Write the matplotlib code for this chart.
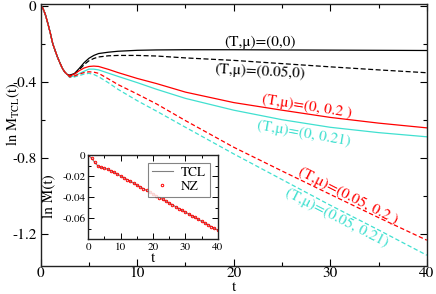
import matplotlib
matplotlib.use("Agg")
import matplotlib.pyplot as plt
from matplotlib.ticker import MultipleLocator, FixedLocator

plt.rcParams['font.family'] = ['STIXGeneral', 'DejaVu Serif']
plt.rcParams['mathtext.fontset'] = 'stix'

# ---- main panel data ----
t_early = [0, 0.25, 0.5, 0.75, 1.0, 1.25, 1.5, 1.75, 2.0, 2.25, 2.5, 2.75]
v_early = [0, -0.015, -0.05, -0.095, -0.145, -0.20, -0.237, -0.272, -0.302, -0.33, -0.35, -0.362]

t_late = [3.0, 3.5, 4.0, 4.5, 5.0, 5.5, 6.0, 7.0, 8.0, 10.0, 12.0, 15.0, 20.0, 25.0, 30.0, 35.0, 40.0]
black_solid = [-0.366, -0.357, -0.33, -0.30, -0.277, -0.262, -0.252, -0.245, -0.240, -0.235, -0.233, -0.232, -0.232, -0.233, -0.234, -0.235, -0.236]
black_dash = [-0.368, -0.36, -0.337, -0.31, -0.29, -0.278, -0.27, -0.264, -0.262, -0.262, -0.265, -0.275, -0.288, -0.305, -0.322, -0.338, -0.353]
red_solid = [-0.37, -0.36, -0.342, -0.328, -0.32, -0.318, -0.32, -0.335, -0.352, -0.383, -0.41, -0.455, -0.51, -0.55, -0.588, -0.618, -0.643]
cyan_solid = [-0.375, -0.37, -0.357, -0.345, -0.334, -0.334, -0.338, -0.355, -0.372, -0.405, -0.44, -0.488, -0.55, -0.60, -0.64, -0.668, -0.69]
red_dash = [-0.375, -0.37, -0.36, -0.352, -0.348, -0.35, -0.356, -0.385, -0.415, -0.465, -0.517, -0.605, -0.745, -0.87, -0.993, -1.115, -1.234]
cyan_dash = [-0.378, -0.375, -0.368, -0.36, -0.356, -0.362, -0.374, -0.405, -0.44, -0.50, -0.555, -0.64, -0.78, -0.915, -1.05, -1.18, -1.313]

labels = ["(T,\u03bc)=(0,0)", "(T,\u03bc)=(0.05,0)", "(T,\u03bc)=(0, 0.2 )",
          "(T,\u03bc)=(0, 0.21)", "(T,\u03bc)=(0.05, 0.2 )", "(T,\u03bc)=(0.05, 0.21)"]

# ---- inset data ----
t_in = list(range(0, 41))
nz_in = [0, -0.003, -0.007, -0.0105, -0.0118, -0.0125, -0.0135, -0.015, -0.0165, -0.0182,
         -0.0199, -0.0216, -0.0233, -0.025, -0.0267, -0.0285, -0.0302, -0.0319, -0.0336, -0.0353,
         -0.037, -0.0387, -0.0405, -0.0422, -0.0439, -0.0456, -0.0473, -0.049, -0.0508, -0.0525,
         -0.0542, -0.0559, -0.0576, -0.0593, -0.0611, -0.0628, -0.0645, -0.0662, -0.0679, -0.0696,
         -0.0713]

CYAN = '#40e0d0'
RED = '#ff0000'

fig = plt.figure(figsize=(4.36, 2.94), dpi=100)
ax = fig.add_axes([0.0933, 0.0963, 0.979 - 0.0933, 0.986 - 0.0963])

def full(vals):
    return v_early + vals

tt = t_early + t_late
lw = 0.9
ax.plot(tt, full(black_solid), color='black', lw=lw)
ax.plot(tt, full(black_dash), color='black', lw=lw, ls=(0, (4, 2)))
ax.plot(tt, full(cyan_solid), color=CYAN, lw=lw)
ax.plot(tt, full(red_solid), color=RED, lw=lw)
ax.plot(tt, full(cyan_dash), color=CYAN, lw=lw, ls=(0, (3.5, 2)))
ax.plot(tt, full(red_dash), color=RED, lw=lw, ls=(0, (3.5, 2)))

ax.set_xlim(0, 40)
ax.set_ylim(-1.368, 0.008)
ax.xaxis.set_major_locator(FixedLocator([0, 10, 20, 30, 40]))
ax.xaxis.set_minor_locator(MultipleLocator(5))
ax.yaxis.set_major_locator(FixedLocator([0, -0.4, -0.8, -1.2]))
ax.yaxis.set_minor_locator(FixedLocator([-0.2, -0.6, -1.0]))
ax.set_xticklabels(['0', '10', '20', '30', '40'])
ax.set_yticklabels(['0', '-0.4', '-0.8', '-1.2'])
ax.tick_params(which='both', direction='in', top=True, right=True, labelsize=11, width=0.8)
ax.tick_params(which='major', length=5, pad=3)
ax.tick_params(axis='x', which='major', pad=1)
ax.tick_params(which='minor', length=3)
for s in ax.spines.values():
    s.set_linewidth(1.0)
    s.set_color('#222222')
ax.set_xlabel('t', fontsize=11, va='center')
ax.xaxis.set_label_coords(0.5, -0.083)
ax.set_ylabel(r'ln M$_{\rm TCL}$(t)', fontsize=10.5, va='center')
ax.yaxis.set_label_coords(-0.072, 0.58)

txt = dict(fontsize=11, ha='center', va='center', rotation_mode='anchor')
ax.text(22.75, -0.192, labels[0], color='black', **txt)
ax.text(22.7, -0.35, labels[1], color='black', rotation=-3, **txt)
ax.text(27.6, -0.529, labels[2], color=RED, rotation=-9, **txt)
ax.text(27.3, -0.671, labels[3], color=CYAN, rotation=-10, **txt)
ax.text(31.8, -1.002, labels[4], color=RED, rotation=-27, **txt)
ax.text(30.7, -1.118, labels[5], color=CYAN, rotation=-27, **txt)

# ---- inset ----
ins = fig.add_axes([0.2025, 0.186, 0.4993 - 0.2025, 0.4728 - 0.186])
ins.plot(t_in, nz_in, color='#808080', lw=0.8, label='TCL')
ins.plot(t_in, nz_in, ls='none', marker='o', ms=1.8, mfc='none', mec=RED, mew=0.7, label='NZ')
ins.set_xlim(0, 40)
ins.set_ylim(-0.08, 0)
ins.xaxis.set_major_locator(FixedLocator([0, 10, 20, 30, 40]))
ins.xaxis.set_minor_locator(MultipleLocator(5))
ins.yaxis.set_major_locator(FixedLocator([0, -0.02, -0.04, -0.06]))
ins.yaxis.set_minor_locator(FixedLocator([-0.01, -0.03, -0.05, -0.07]))
ins.set_xticklabels(['0', '10', '20', '30', '40'])
ins.set_yticklabels(['0', '-0.02', '-0.04', '-0.06'])
ins.tick_params(which='both', direction='in', top=True, right=True, labelsize=8, width=0.7)
ins.tick_params(which='major', length=4, pad=2)
ins.tick_params(which='minor', length=2)
for s in ins.spines.values():
    s.set_linewidth(1.0)
    s.set_color('#222222')
ins.set_xlabel('t', fontsize=11, va='center')
ins.xaxis.set_label_coords(0.5, -0.222)
ins.set_ylabel('ln M(t)', fontsize=11, va='center')
ins.yaxis.set_label_coords(-0.296, 0.514)
leg = ins.legend(loc='upper right', fontsize=9.5, frameon=True, fancybox=False,
                 handlelength=1.6, borderpad=0.3, labelspacing=0.1, handletextpad=0.6,
                 borderaxespad=0.6)
leg.get_frame().set_edgecolor('#666666')
leg.get_frame().set_linewidth(0.8)

fig.savefig('out.png', dpi=100)
